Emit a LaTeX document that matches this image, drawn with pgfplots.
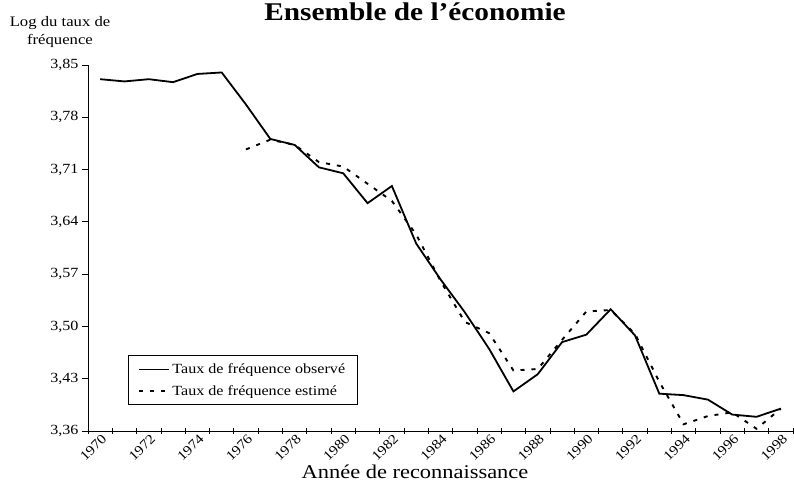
\documentclass[border=0pt]{standalone}
\usepackage{pgfplots}
\pgfplotsset{compat=1.18}
\usepackage{fontspec}
\setmainfont{Liberation Serif}[FakeStretch=1.15]
\pgfplotstableread{
year obs
1970 3.831
1971 3.828
1972 3.831
1973 3.827
1974 3.838
1975 3.840
1976 3.797
1977 3.751
1978 3.743
1979 3.713
1980 3.705
1981 3.665
1982 3.688
1983 3.611
1984 3.563
1985 3.519
1986 3.470
1987 3.413
1988 3.436
1989 3.479
1990 3.489
1991 3.523
1992 3.488
1993 3.410
1994 3.408
1995 3.402
1996 3.382
1997 3.379
1998 3.390
}\observed
\pgfplotstableread{
year est
1976 3.737
1977 3.750
1978 3.743
1979 3.720
1980 3.714
1981 3.691
1982 3.668
1983 3.623
1984 3.561
1985 3.506
1986 3.491
1987 3.441
1988 3.443
1989 3.482
1990 3.520
1991 3.522
1992 3.490
1993 3.426
1994 3.369
1995 3.380
1996 3.385
1997 3.363
1998 3.390
}\estimated
\begin{document}
\begin{tikzpicture}
\begin{axis}[
  at={(0pt,0pt)}, anchor=origin,
  scale only axis,
  width=705pt, height=366pt,
  xmin=1969.5, xmax=1998.5,
  ymin=3.36, ymax=3.85,
  axis x line=bottom, axis y line=left,
  axis line style={-, line width=0.9pt},
  xtick={1969.5,1970.5,...,1998.5},
  xticklabels={},
  extra x ticks={1970,1972,1974,1976,1978,1980,1982,1984,1986,1988,1990,1992,1994,1996,1998},
  extra x tick labels={1970,1972,1974,1976,1978,1980,1982,1984,1986,1988,1990,1992,1994,1996,1998},
  extra x tick style={tickwidth=0pt},
  x tick label style={font=\fontsize{13.5}{16}\selectfont, rotate=45, anchor=east, inner sep=1pt, yshift=-7pt},
  ytick={3.36,3.43,3.50,3.57,3.64,3.71,3.78,3.85},
  y tick label style={font=\fontsize{14}{16}\selectfont, /pgf/number format/.cd, use comma, fixed, fixed zerofill, precision=2, assume math mode=true},
  /pgf/number format/assume math mode=true,
  xtick align=center,
  ytick align=outside,
  major tick length=6pt,
  tick style={line width=0.8pt, black},
  legend style={at={(rel axis cs:0.057,0.071)}, anchor=south west,
    draw=black, line width=0.8pt, font=\fontsize{14}{16}\selectfont,
    inner xsep=10pt, inner ysep=6pt, row sep=6pt, cells={anchor=west}},
  legend image code/.code={\draw[#1, line width=1.8pt] (0pt,0pt) -- (30pt,0pt);},
  clip=false,
]
\addplot[black, line width=1.8pt] table[x=year, y=obs] {\observed};
\addlegendentry{Taux de fréquence observé}
\addplot[black, line width=1.9pt, dash pattern=on 4pt off 7pt] table[x=year, y=est] {\estimated};
\addlegendentry{Taux de fréquence estimé}
\end{axis}
\node[font=\fontsize{25.5}{28}\selectfont\bfseries, anchor=base] at (327pt,410pt) {Ensemble de l'économie};
\node[font=\fontsize{14.5}{18}\selectfont, align=center] at (-28pt,399pt) {Log du taux de\\fréquence};
\node[font=\fontsize{19.5}{22}\selectfont, anchor=base] at (327pt,-47pt) {Année de reconnaissance};
\pgfresetboundingbox
\path (-88pt,-61pt) rectangle (706pt,431pt);
\end{tikzpicture}
\end{document}
